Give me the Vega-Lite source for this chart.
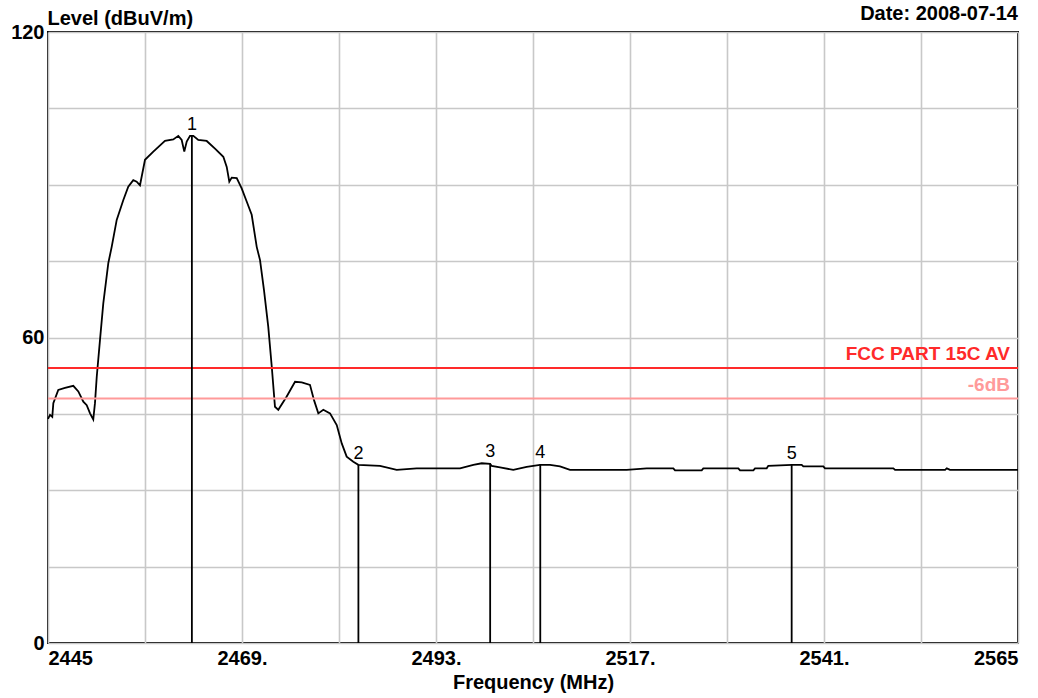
{
  "$schema": "https://vega.github.io/schema/vega-lite/v6.json",
  "width": 970,
  "height": 611,
  "autosize": {"type": "none"},
  "padding": {"left": 48, "top": 32, "right": 20, "bottom": 55},
  "background": "white",
  "title": {"text": "Date: 2008-07-14", "anchor": "end", "frame": "group", "fontSize": 20, "fontWeight": "bold", "font": "Liberation Sans", "color": "#000", "offset": 8, "dy": 24},
  "datasets": {
    "trace": [
      {"f": 2445.0, "level": 44.0}, {"f": 2445.25, "level": 44.8}, {"f": 2445.53, "level": 44.4}, {"f": 2445.66, "level": 47.1},
      {"f": 2446.27, "level": 49.7}, {"f": 2447.1, "level": 50.1}, {"f": 2448.13, "level": 50.5}, {"f": 2448.75, "level": 49.4},
      {"f": 2449.37, "level": 47.4}, {"f": 2449.79, "level": 46.7}, {"f": 2450.2, "level": 45.1}, {"f": 2450.6, "level": 43.9},
      {"f": 2450.81, "level": 47.1}, {"f": 2451.03, "level": 52.3}, {"f": 2451.43, "level": 59.5}, {"f": 2451.84, "level": 66.7},
      {"f": 2452.46, "level": 74.6}, {"f": 2452.88, "level": 77.8}, {"f": 2453.5, "level": 83.1}, {"f": 2454.32, "level": 87.0},
      {"f": 2454.93, "level": 89.6}, {"f": 2455.55, "level": 90.9}, {"f": 2455.97, "level": 90.6}, {"f": 2456.38, "level": 89.9},
      {"f": 2457.0, "level": 94.9}, {"f": 2458.03, "level": 96.5}, {"f": 2459.47, "level": 98.6}, {"f": 2460.5, "level": 98.9},
      {"f": 2461.12, "level": 99.6}, {"f": 2461.54, "level": 98.8}, {"f": 2461.86, "level": 96.5}, {"f": 2462.16, "level": 98.5},
      {"f": 2462.57, "level": 99.6}, {"f": 2462.98, "level": 99.6}, {"f": 2463.59, "level": 98.8}, {"f": 2464.63, "level": 98.6},
      {"f": 2465.66, "level": 97.1}, {"f": 2466.69, "level": 95.5}, {"f": 2467.11, "level": 93.5}, {"f": 2467.43, "level": 90.6},
      {"f": 2467.73, "level": 91.4}, {"f": 2468.35, "level": 91.3}, {"f": 2468.96, "level": 89.3}, {"f": 2469.58, "level": 86.7},
      {"f": 2470.2, "level": 84.1}, {"f": 2470.82, "level": 77.8}, {"f": 2471.23, "level": 75.2}, {"f": 2471.72, "level": 69.3},
      {"f": 2472.25, "level": 62.1}, {"f": 2472.68, "level": 54.3}, {"f": 2473.08, "level": 46.4}, {"f": 2473.49, "level": 45.8},
      {"f": 2474.53, "level": 48.4}, {"f": 2475.56, "level": 51.3}, {"f": 2476.39, "level": 51.2}, {"f": 2477.41, "level": 50.7},
      {"f": 2477.91, "level": 47.7}, {"f": 2478.44, "level": 45.1}, {"f": 2479.06, "level": 45.8}, {"f": 2479.89, "level": 45.1},
      {"f": 2480.72, "level": 42.8}, {"f": 2481.34, "level": 39.2}, {"f": 2481.95, "level": 36.6}, {"f": 2482.77, "level": 35.6},
      {"f": 2483.39, "level": 35.0}, {"f": 2486.07, "level": 34.8}, {"f": 2488.14, "level": 34.0}, {"f": 2490.61, "level": 34.3},
      {"f": 2495.97, "level": 34.3}, {"f": 2497.62, "level": 35.0}, {"f": 2498.66, "level": 35.3}, {"f": 2499.68, "level": 35.2},
      {"f": 2499.89, "level": 34.8}, {"f": 2500.92, "level": 34.5}, {"f": 2502.56, "level": 34.0}, {"f": 2504.22, "level": 34.6},
      {"f": 2505.87, "level": 35.0}, {"f": 2507.11, "level": 35.0}, {"f": 2508.34, "level": 34.7}, {"f": 2509.58, "level": 34.0},
      {"f": 2516.59, "level": 34.0}, {"f": 2519.07, "level": 34.3}, {"f": 2522.36, "level": 34.3}, {"f": 2522.57, "level": 33.9},
      {"f": 2525.87, "level": 33.9}, {"f": 2526.07, "level": 34.3}, {"f": 2530.4, "level": 34.3}, {"f": 2530.61, "level": 33.9},
      {"f": 2532.26, "level": 33.9}, {"f": 2532.47, "level": 34.3}, {"f": 2533.91, "level": 34.3}, {"f": 2534.11, "level": 34.8},
      {"f": 2537.05, "level": 35.0}, {"f": 2538.24, "level": 35.0}, {"f": 2538.44, "level": 34.7}, {"f": 2540.92, "level": 34.7},
      {"f": 2541.12, "level": 34.3}, {"f": 2549.58, "level": 34.3}, {"f": 2549.79, "level": 34.0}, {"f": 2555.98, "level": 34.0},
      {"f": 2556.19, "level": 34.3}, {"f": 2556.59, "level": 34.0}, {"f": 2565.0, "level": 34.0}
    ],
    "markers": [
      {"id": "1", "f": 2462.8, "level": 99.6},
      {"id": "2", "f": 2483.4, "level": 35.0},
      {"id": "3", "f": 2499.7, "level": 35.3},
      {"id": "4", "f": 2505.9, "level": 35.1},
      {"id": "5", "f": 2537.0, "level": 35.0}
    ],
    "limits": [
      {"name": "FCC PART 15C AV", "level": 54},
      {"name": "-6dB", "level": 48}
    ]
  },
  "layer": [
    {
      "data": {"name": "trace"},
      "mark": {"type": "line", "color": "#000", "strokeWidth": 1.8},
      "encoding": {
        "x": {
          "field": "f", "type": "quantitative",
          "scale": {"domain": [2445, 2565], "nice": false, "zero": false},
          "axis": {
            "title": "Frequency (MHz)",
            "values": [2445, 2457, 2469, 2481, 2493, 2505, 2517, 2529, 2541, 2553, 2565],
            "labelExpr": "(datum.value - 2445) % 24 == 0 ? ((datum.value == 2445 || datum.value == 2565) ? datum.value + '' : datum.value + '.') : ''",
            "labelFlush": true,
            "labelOverlap": false,
            "labelPadding": 5,
            "titlePadding": 4
          }
        },
        "y": {
          "field": "level", "type": "quantitative",
          "scale": {"domain": [0, 120], "nice": false, "zero": false},
          "axis": {
            "title": "Level (dBuV/m)",
            "values": [0, 15, 30, 45, 60, 75, 90, 105, 120],
            "labelExpr": "datum.value % 60 == 0 ? datum.value + '' : ''",
            "labelOverlap": false,
            "labelPadding": 4,
            "titleAngle": 0,
            "titleAlign": "left",
            "titleBaseline": "alphabetic",
            "titleX": -1,
            "titleY": -8
          }
        }
      }
    },
    {
      "data": {"name": "limits"},
      "mark": {"type": "rule", "strokeWidth": 2},
      "encoding": {
        "y": {"field": "level", "type": "quantitative"},
        "color": {"field": "name", "type": "nominal", "scale": {"domain": ["FCC PART 15C AV", "-6dB"], "range": ["#ff2a2a", "#ff9a9a"]}, "legend": null}
      }
    },
    {
      "data": {"name": "limits"},
      "mark": {"type": "text", "align": "right", "baseline": "alphabetic", "dx": -8, "dy": -8, "fontSize": 19, "fontWeight": "bold", "font": "Liberation Sans"},
      "encoding": {
        "x": {"datum": 2565, "type": "quantitative"},
        "y": {"field": "level", "type": "quantitative"},
        "text": {"field": "name"},
        "color": {"field": "name", "type": "nominal", "legend": null}
      }
    },
    {
      "data": {"name": "markers"},
      "mark": {"type": "rule", "color": "#000", "strokeWidth": 1.8},
      "encoding": {
        "x": {"field": "f", "type": "quantitative"},
        "y": {"field": "level", "type": "quantitative"},
        "y2": {"datum": 0}
      }
    },
    {
      "data": {"name": "markers"},
      "mark": {"type": "text", "align": "center", "baseline": "alphabetic", "dy": -6, "fontSize": 18, "font": "Liberation Sans", "color": "#000"},
      "encoding": {
        "x": {"field": "f", "type": "quantitative"},
        "y": {"field": "level", "type": "quantitative"},
        "text": {"field": "id"}
      }
    }
  ],
  "config": {
    "view": {"stroke": "#000", "strokeWidth": 2},
    "axis": {
      "grid": true,
      "gridColor": "#c8c8c8",
      "gridWidth": 1.6,
      "domain": false,
      "ticks": false,
      "labelFont": "Liberation Sans",
      "labelFontSize": 20,
      "labelFontWeight": "bold",
      "labelColor": "#000",
      "titleFont": "Liberation Sans",
      "titleFontSize": 20,
      "titleFontWeight": "bold",
      "titleColor": "#000"
    }
  }
}
